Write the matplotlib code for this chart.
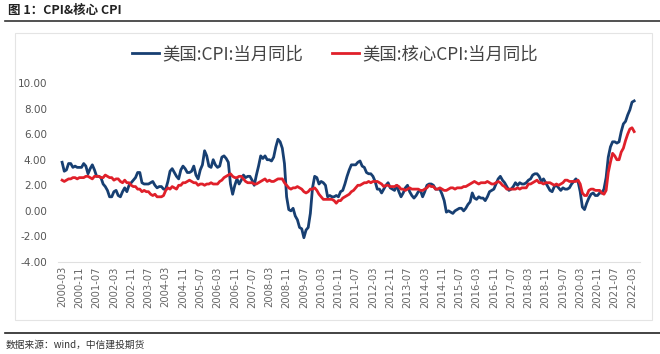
import matplotlib
matplotlib.use("Agg")
import matplotlib.pyplot as plt
from matplotlib.patches import Rectangle
from matplotlib.lines import Line2D

plt.rcParams['font.family'] = ['Noto Sans CJK SC', 'DejaVu Sans']

start_year, start_month = 2000, 3

cpi = [
    # 2000 (from Mar)
    3.8, 3.1, 3.2, 3.7, 3.7, 3.4, 3.5, 3.4, 3.4, 3.4,
    # 2001
    3.7, 3.5, 2.9, 3.3, 3.6, 3.2, 2.7, 2.7, 2.6, 2.1, 1.9, 1.6,
    # 2002
    1.1, 1.1, 1.5, 1.6, 1.2, 1.1, 1.5, 1.8, 1.5, 2.0, 2.2, 2.4,
    # 2003
    2.6, 3.0, 3.0, 2.2, 2.1, 2.1, 2.1, 2.2, 2.3, 2.0, 1.8, 1.9,
    # 2004
    1.9, 1.7, 1.7, 2.3, 3.1, 3.3, 3.0, 2.7, 2.5, 3.2, 3.5, 3.3,
    # 2005
    3.0, 3.0, 3.1, 3.5, 2.8, 2.5, 3.2, 3.6, 4.7, 4.3, 3.5, 3.4,
    # 2006
    4.0, 3.6, 3.4, 3.5, 4.2, 4.3, 4.1, 3.8, 2.1, 1.3, 2.0, 2.5,
    # 2007
    2.1, 2.4, 2.8, 2.6, 2.7, 2.7, 2.4, 2.0, 2.8, 3.5, 4.3, 4.1,
    # 2008
    4.3, 4.0, 4.0, 3.9, 4.2, 5.0, 5.6, 5.4, 4.9, 3.7, 1.1, 0.1,
    # 2009
    0.0, 0.2, -0.4, -0.7, -1.3, -1.4, -2.1, -1.5, -1.3, -0.2, 1.8, 2.7,
    # 2010
    2.6, 2.1, 2.3, 2.2, 2.0, 1.1, 1.2, 1.1, 1.1, 1.2, 1.1, 1.5,
    # 2011
    1.6, 2.1, 2.7, 3.2, 3.6, 3.6, 3.6, 3.8, 3.9, 3.5, 3.4, 3.0,
    # 2012
    2.9, 2.9, 2.7, 2.3, 1.7, 1.7, 1.4, 1.7, 2.0, 2.2, 1.8, 1.7,
    # 2013
    1.6, 2.0, 1.5, 1.1, 1.4, 1.8, 2.0, 1.5, 1.2, 1.0, 1.2, 1.5,
    # 2014
    1.6, 1.1, 1.5, 2.0, 2.1, 2.1, 2.0, 1.7, 1.7, 1.7, 1.3, 0.8,
    # 2015
    -0.1, 0.0, -0.1, -0.2, 0.0, 0.1, 0.2, 0.2, 0.0, 0.2, 0.5, 0.7,
    # 2016
    1.4, 1.0, 0.9, 1.1, 1.0, 1.0, 0.8, 1.1, 1.5, 1.6, 1.7, 2.1,
    # 2017
    2.5, 2.7, 2.4, 2.2, 1.9, 1.6, 1.7, 1.9, 2.2, 2.0, 2.2, 2.1,
    # 2018
    2.1, 2.2, 2.4, 2.5, 2.8, 2.9, 2.9, 2.7, 2.3, 2.5, 2.2, 1.9,
    # 2019
    1.6, 1.5, 1.9, 2.0, 1.8, 1.6, 1.8, 1.7, 1.7, 1.8, 2.1, 2.3,
    # 2020
    2.5, 2.3, 1.5, 0.3, 0.1, 0.6, 1.0, 1.3, 1.4, 1.2, 1.2, 1.4,
    # 2021
    1.4, 1.7, 2.6, 4.2, 5.0, 5.4, 5.4, 5.3, 5.4, 6.2, 6.8, 7.0,
    # 2022
    7.5, 7.9, 8.5, 8.6,
]

core_cpi = [
    # 2000 (from Mar)
    2.4, 2.3, 2.4, 2.5, 2.5, 2.6, 2.6, 2.5, 2.6, 2.6,
    # 2001
    2.6, 2.7, 2.7, 2.6, 2.5, 2.7, 2.7, 2.7, 2.6, 2.6, 2.8, 2.7,
    # 2002
    2.6, 2.6, 2.4, 2.5, 2.5, 2.3, 2.2, 2.4, 2.2, 2.2, 2.0, 1.9,
    # 2003
    1.9, 1.7, 1.7, 1.5, 1.6, 1.5, 1.5, 1.3, 1.2, 1.3, 1.1, 1.1,
    # 2004
    1.1, 1.2, 1.6, 1.8, 1.7, 1.9, 1.8, 1.7, 2.0, 2.0, 2.2, 2.2,
    # 2005
    2.3, 2.4, 2.3, 2.2, 2.2, 2.0, 2.1, 2.1, 2.0, 2.1, 2.1, 2.2,
    # 2006
    2.1, 2.1, 2.1, 2.3, 2.4, 2.6, 2.7, 2.8, 2.9, 2.7, 2.6, 2.6,
    # 2007
    2.7, 2.7, 2.5, 2.3, 2.2, 2.2, 2.2, 2.1, 2.1, 2.2, 2.3, 2.4,
    # 2008
    2.5, 2.3, 2.4, 2.3, 2.3, 2.4, 2.5, 2.5, 2.5, 2.2, 2.0, 1.8,
    # 2009
    1.7, 1.8, 1.8, 1.9, 1.8, 1.7, 1.5, 1.4, 1.5, 1.7, 1.7, 1.8,
    # 2010
    1.6, 1.3, 1.1, 0.9, 0.9, 0.9, 0.9, 0.9, 0.8, 0.6, 0.8, 0.8,
    # 2011
    1.0, 1.1, 1.2, 1.3, 1.5, 1.6, 1.8, 2.0, 2.0, 2.1, 2.2, 2.2,
    # 2012
    2.3, 2.2, 2.3, 2.3, 2.3, 2.2, 2.1, 1.9, 2.0, 2.0, 1.9, 1.9,
    # 2013
    1.9, 2.0, 1.9, 1.7, 1.7, 1.6, 1.7, 1.8, 1.7, 1.7, 1.7, 1.7,
    # 2014
    1.6, 1.6, 1.7, 1.8, 2.0, 1.9, 1.9, 1.7, 1.7, 1.8, 1.7, 1.6,
    # 2015
    1.6, 1.7, 1.8, 1.8, 1.7, 1.8, 1.8, 1.8, 1.9, 1.9, 2.0, 2.1,
    # 2016
    2.2, 2.3, 2.2, 2.1, 2.2, 2.2, 2.2, 2.3, 2.2, 2.1, 2.1, 2.2,
    # 2017
    2.3, 2.2, 2.0, 1.9, 1.7, 1.7, 1.7, 1.7, 1.7, 1.8, 1.7, 1.8,
    # 2018
    1.8, 1.8, 2.1, 2.1, 2.2, 2.3, 2.4, 2.2, 2.2, 2.1, 2.2, 2.2,
    # 2019
    2.2, 2.1, 2.0, 2.1, 2.0, 2.1, 2.2, 2.4, 2.4, 2.3, 2.3, 2.3,
    # 2020
    2.3, 2.4, 2.1, 1.4, 1.2, 1.2, 1.6, 1.7, 1.7, 1.6, 1.6, 1.6,
    # 2021
    1.4, 1.3, 1.6, 3.0, 3.8, 4.5, 4.3, 4.0, 4.0, 4.6, 4.9, 5.5,
    # 2022
    6.0, 6.4, 6.5, 6.2,
]

series_names = ["美国:CPI:当月同比", "美国:核心CPI:当月同比"]
yticks = [-4, -2, 0, 2, 4, 6, 8, 10]

n = len(cpi)
months = []
for i in range(n):
    m0 = start_month - 1 + i
    months.append(f"{start_year + m0 // 12}-{m0 % 12 + 1:02d}")
tick_idx = list(range(0, n, 8))
tick_labels = [months[i] for i in tick_idx]
x = list(range(n))

W, H = 660, 354
fig = plt.figure(figsize=(W / 100, H / 100), dpi=100)
fig.patch.set_facecolor('white')

# title and rules
fig.text(8 / W, 1 - 10 / H, "图 1：CPI&核心 CPI", fontsize=9, fontweight='bold',
         va='center', ha='left', color='#222222')
fig.add_artist(Line2D([5 / W, 1.0], [1 - 21 / H, 1 - 21 / H], color='#333333', lw=1.2))
fig.add_artist(Line2D([5 / W, 1.0], [1 - 333 / H, 1 - 333 / H], color='#222222', lw=1.2))
fig.text(6 / W, 1 - 345 / H, "数据来源：wind，中信建投期货", fontsize=7, style='italic',
         va='center', ha='left', color='#333333')
# panel
fig.add_artist(Rectangle((15 / W, 1 - 320 / H), 637 / W, 287 / H, transform=fig.transFigure,
                         fill=False, edgecolor='#e4e4e4', lw=0.8))

ax = fig.add_axes([58 / W, 1 - 262 / H, 582 / W, 179 / H])
ax.plot(x, cpi, color='#173f72', lw=2.0, label=series_names[0])
ax.plot(x, core_cpi, color='#e0202a', lw=2.0, label=series_names[1])

ax.set_ylim(-4, 10)
ax.set_xlim(-1.9, 267.7)
ax.set_yticks(yticks)
ax.set_yticklabels([f"{v:.2f}" for v in yticks], color='#555555', fontsize=7.5,
                   family=['DejaVu Sans'])
ax.set_xticks(tick_idx)
ax.set_xticklabels(tick_labels, rotation=90, color='#666666', fontsize=7.2,
                   family=['DejaVu Sans'])
for s in ['left', 'right', 'top']:
    ax.spines[s].set_visible(False)
ax.spines['bottom'].set_color('#e0e0e0')
ax.tick_params(axis='both', length=0, pad=3)
ax.tick_params(axis='y', pad=8)

fig.legend(loc='center', bbox_to_anchor=(335 / W, 1 - 54 / H), ncol=2, frameon=False,
           fontsize=12.5, handlelength=1.55, columnspacing=1.7, handletextpad=0.15,
           labelcolor='#444444')

fig.savefig("out.png", dpi=100)
